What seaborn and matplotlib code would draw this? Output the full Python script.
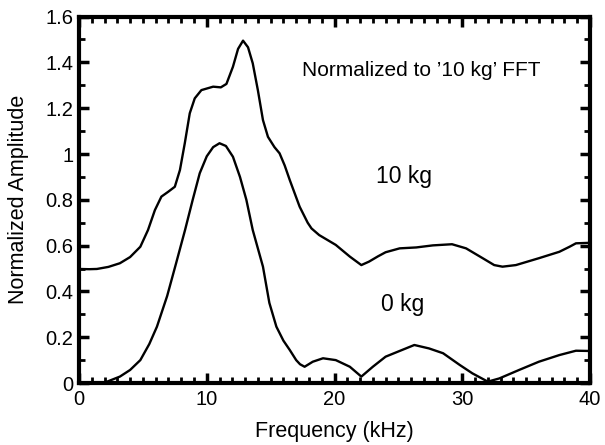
import numpy as np
import pandas as pd
import matplotlib
matplotlib.use("Agg")
import matplotlib.pyplot as plt
from matplotlib.pyplot import MultipleLocator
import seaborn as sns

sns.set_theme(style='ticks')
plt.rcParams['font.family'] = ['Liberation Sans', 'DejaVu Sans']
plt.rcParams['text.color'] = 'black'
plt.rcParams['axes.labelcolor'] = 'black'
plt.rcParams['xtick.color'] = 'black'
plt.rcParams['ytick.color'] = 'black'

# values (kHz, normalized amplitude)
freq_10kg = [0.0, 0.8, 1.4, 2.3, 3.2, 4.0, 4.8, 5.4, 5.94, 6.45, 6.98, 7.5, 7.9, 8.28,
             8.67, 9.06, 9.58, 10.5, 11.1, 11.54, 12.05, 12.45, 12.84, 13.23, 13.6, 14.0,
             14.4, 14.79, 15.3, 15.7, 16.1, 16.5, 17.27, 17.9, 18.2, 18.8, 20.1, 21.2,
             22.1, 22.7, 23.4, 24.0, 25.1, 26.4, 27.7, 29.2, 30.3, 31.6, 32.5, 33.15,
             34.2, 36.0, 37.6, 38.4, 38.9, 39.9]
amp_10kg = [0.498, 0.497, 0.498, 0.507, 0.523, 0.55, 0.595, 0.668, 0.755, 0.814, 0.835,
            0.857, 0.93, 1.047, 1.178, 1.243, 1.279, 1.294, 1.291, 1.306, 1.381, 1.459,
            1.495, 1.466, 1.396, 1.279, 1.148, 1.075, 1.03, 1.003, 0.95, 0.886, 0.77,
            0.70, 0.675, 0.646, 0.603, 0.552, 0.515, 0.53, 0.553, 0.571, 0.588, 0.592,
            0.601, 0.606, 0.588, 0.545, 0.515, 0.508, 0.515, 0.545, 0.573, 0.595, 0.61,
            0.612]

freq_0kg = [0.0, 1.6, 2.2, 3.2, 4.0, 4.8, 5.5, 6.1, 6.9, 7.6, 8.3, 8.9, 9.45, 10.0, 10.5,
            11.0, 11.5, 12.05, 12.6, 13.1, 13.6, 14.4, 14.9, 15.45, 16.0, 16.5, 17.0,
            17.3, 17.66, 18.3, 19.1, 20.1, 21.2, 22.1, 23.0, 24.0, 25.1, 26.25, 27.4,
            28.5, 29.8, 30.8, 32.0, 32.9, 34.45, 36.0, 37.6, 38.9, 39.9]
amp_0kg = [0.0, 0.0, 0.006, 0.028, 0.057, 0.10, 0.17, 0.246, 0.38, 0.523, 0.668, 0.80,
           0.916, 0.99, 1.03, 1.047, 1.035, 0.988, 0.90, 0.80, 0.668, 0.508, 0.35, 0.246,
           0.185, 0.144, 0.10, 0.082, 0.071, 0.093, 0.108, 0.10, 0.071, 0.028, 0.071,
           0.115, 0.14, 0.166, 0.151, 0.13, 0.079, 0.042, 0.006, 0.02, 0.057, 0.093,
           0.122, 0.141, 0.14]

ytick_labels = ['0', '0.2', '0.4', '0.6', '0.8', '1', '1.2', '1.4', '1.6']

df = pd.concat([
    pd.DataFrame({'freq': freq_10kg, 'amp': amp_10kg, 'load': '10 kg'}),
    pd.DataFrame({'freq': freq_0kg, 'amp': amp_0kg, 'load': '0 kg'}),
])

fig = plt.figure(figsize=(6.05, 4.45), dpi=100)
ax = fig.add_axes([0.1306, 0.1393, 0.8446, 0.8234])

sns.lineplot(data=df, x='freq', y='amp', units='load', estimator=None,
             color='black', linewidth=1.7, sort=False, ax=ax)
for ln in ax.get_lines():
    ln.set_solid_joinstyle('round')

ax.set_xlim(0, 40)
ax.set_ylim(0, 1.6)
ax.xaxis.set_major_locator(MultipleLocator(10))
ax.xaxis.set_minor_locator(MultipleLocator(1))
ax.yaxis.set_minor_locator(MultipleLocator(0.1))
ax.set_yticks(np.linspace(0, 1.6, len(ytick_labels)))
ax.set_yticklabels(ytick_labels)

for s in ax.spines.values():
    s.set_visible(True)
    s.set_linewidth(3)
    s.set_color('black')
ax.tick_params(which='both', direction='in', top=True, right=True, color='black',
               labelcolor='black', labelsize=14.5)
ax.tick_params(axis='x', pad=5)
ax.tick_params(axis='y', pad=4)
ax.tick_params(which='major', length=7, width=2.5)
ax.tick_params(which='minor', length=4, width=2.0)

ax.set_xlabel('Frequency (kHz)', fontsize=15.5, va='center')
ax.set_ylabel('Normalized Amplitude', fontsize=15.5, va='center')
ax.xaxis.set_label_coords(0.5, -0.1327)
ax.yaxis.set_label_coords(-0.118, 0.5)

ax.text(17.42, 1.34, "Normalized to \u201910 kg\u2019 FFT", fontsize=15, ha='left', va='baseline')
ax.text(23.26, 0.872, '10 kg', fontsize=16.5, ha='left', va='baseline')
ax.text(23.65, 0.316, '0 kg', fontsize=16.5, ha='left', va='baseline')

fig.savefig('out.png', dpi=100)
